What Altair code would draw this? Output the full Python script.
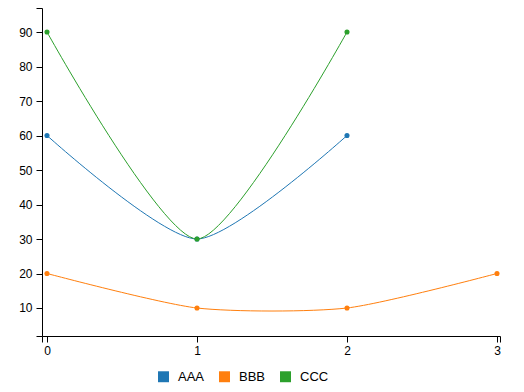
import altair as alt
import pandas as pd

series_names = ["AAA", "BBB", "CCC"]
aaa_values = [60, 30, 60]
bbb_values = [20, 10, 10, 20]
ccc_values = [90, 30, 90]
colors = ["#1f77b4", "#ff7f0e", "#2ca02c"]
y_ticks = [10, 20, 30, 40, 50, 60, 70, 80, 90]
x_ticks = [0, 1, 2, 3]
x_domain = [-0.0333, 3.02]
y_domain = [1.884, 96.957]

rows = []
for name, vals in zip(series_names, [aaa_values, bbb_values, ccc_values]):
    for i, v in enumerate(vals):
        rows.append({"series": name, "x": i, "y": v})
df = pd.DataFrame(rows)

FONT = "Liberation Sans"

x_enc = alt.X("x:Q", scale=alt.Scale(domain=x_domain, nice=False, zero=False),
              axis=alt.Axis(values=[x_domain[0]] + x_ticks + [x_domain[1]], title=None, grid=False,
                            labelExpr="(datum.value > -0.01 && datum.value < 3.01) ? format(datum.value, 'd') : ''",
                            labelOverlap=False,
                            domainColor="#000", tickColor="#000", labelColor="#000",
                            labelFont=FONT, labelFontSize=12, tickSize=6, labelPadding=3))
y_enc = alt.Y("y:Q", scale=alt.Scale(domain=y_domain, nice=False, zero=False),
              axis=alt.Axis(values=[y_domain[0]] + y_ticks + [y_domain[1]], title=None, grid=False,
                            labelExpr="(datum.value > 5 && datum.value < 95) ? format(datum.value, 'd') : ''",
                            labelOverlap=False,
                            domainColor="#000", tickColor="#000", labelColor="#000",
                            labelFont=FONT, labelFontSize=12, tickSize=6, labelPadding=4))
color_enc = alt.Color("series:N", scale=alt.Scale(domain=series_names, range=colors),
                      legend=alt.Legend(orient="none", legendX=115, legendY=362,
                                        direction="horizontal", title=None,
                                        symbolType="square", symbolSize=120,
                                        symbolStrokeWidth=0, symbolOpacity=1,
                                        labelFont=FONT, labelFontSize=13, labelColor="#000",
                                        columnPadding=13, labelOffset=8))

base = alt.Chart(df).encode(x=x_enc, y=y_enc, color=color_enc, detail="series:N")

lines = base.mark_line(interpolate="cardinal", tension=0.3, strokeWidth=1)
points = base.mark_circle(size=26, opacity=1)

chart = (lines + points).properties(
    width=458, height=328,
    padding={"left": 34, "top": 0, "right": 16, "bottom": 48},
    autosize=alt.AutoSizeParams(type="none"),
    background="white",
).configure_view(strokeWidth=0, stroke="transparent")

chart.save("out.html", embed_options={"renderer": "svg", "actions": False})
